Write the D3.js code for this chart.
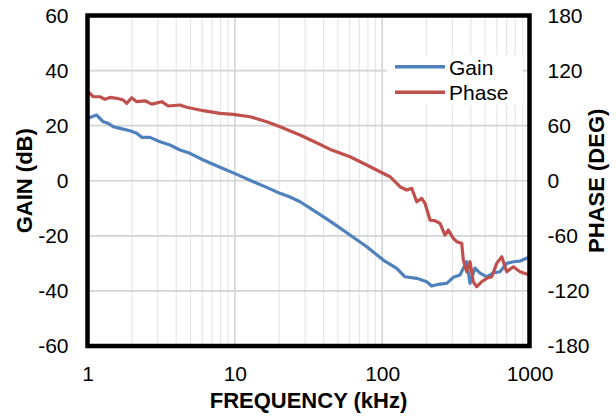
<!DOCTYPE html>
<html>
<head>
<meta charset="utf-8">
<script src="https://cdn.jsdelivr.net/npm/d3@7"></script>
<style>
  html, body { margin: 0; padding: 0; background: #fff; }
  svg { display: block; font-family: Arial, "Liberation Sans", sans-serif; }
</style>
</head>
<body>
<svg id="chart" width="616" height="417"></svg>
<script>
// Loop response: gain (dB) and phase (deg) against frequency (kHz)
const gainFreq = [1, 1.155, 1.28, 1.384, 1.497, 1.662, 1.943, 2.158, 2.333, 2.657, 3.105, 3.631, 4.245, 4.963, 6.109, 7.931, 10.3, 13.35, 16.46, 20.26, 23.69, 27.7, 35.96, 46.6, 60.5, 78.6, 101.8, 125.5, 142.9, 171.6, 200.6, 216.9, 247.0, 274.3, 304.0, 337.6, 355.4, 374.8, 394.7, 426.7, 461.4, 512.5, 565.3, 630.6, 700.1, 776.5, 862.2, 1000];
const gainDb = [22.7, 23.85, 21.42, 20.84, 19.61, 19.03, 18.15, 17.21, 15.76, 15.76, 14.16, 12.96, 11.15, 9.95, 7.52, 4.87, 2.32, -0.36, -2.4, -4.57, -5.92, -7.62, -11.47, -15.47, -19.72, -23.96, -28.79, -31.81, -34.86, -35.44, -36.67, -38.23, -37.51, -37.25, -35.07, -34.24, -31.81, -29.41, -37.25, -31.7, -33.51, -34.86, -33.51, -33.04, -29.99, -29.41, -29.16, -27.7];

const phaseFreq = [1, 1.095, 1.216, 1.314, 1.421, 1.578, 1.75, 1.845, 1.995, 2.158, 2.456, 2.728, 3.189, 3.535, 4.245, 4.713, 6.109, 7.931, 9.76, 12.68, 16.46, 20.26, 27.7, 35.0, 45.45, 60.5, 78.6, 96.7, 113.0, 132.1, 146.7, 158.7, 171.6, 185.5, 195.3, 211.2, 228.4, 247.0, 267.0, 281.2, 304.0, 320.6, 346.7, 355.4, 374.8, 394.7, 415.6, 438.3, 473.8, 512.5, 554.0, 599.0, 647.9, 700.1, 776.5, 862.2, 1000];
const phaseDeg = [97.5, 91.5, 91.5, 88.7, 90.8, 89.8, 87.9, 84.3, 90.4, 86.1, 87.1, 83.5, 86.1, 81.4, 82.5, 80.0, 76.3, 73.4, 72.3, 69.7, 64.3, 58.8, 49.8, 42.2, 33.4, 26.1, 17.1, 9.8, 4.4, -6.5, -10.1, -8.3, -22.9, -19.2, -24.6, -42.8, -43.6, -46.4, -59.1, -53.7, -62.7, -66.4, -68.2, -86.4, -99.1, -88.2, -110.0, -115.5, -110.0, -106.3, -104.6, -90.0, -82.8, -99.1, -93.7, -99.1, -102.7];

const freqTicks = [1, 10, 100, 1000];
const gainTicks = [-60, -40, -20, 0, 20, 40, 60];
const phaseTicks = [-180, -120, -60, 0, 60, 120, 180];
const seriesNames = ["Gain", "Phase"];
const seriesColors = ["#4F81BD", "#C0504D"];

const svg = d3.select("#chart");
const plotL = 87.5, plotR = 529.5, plotT = 15.5, plotB = 346;

const x = d3.scaleLog().domain([1, 1000]).range([plotL, plotR]);
const yGain = d3.scaleLinear().domain([-60, 60]).range([plotB, plotT]);
const yPhase = d3.scaleLinear().domain([-180, 180]).range([plotB, plotT]);

// Minor and major vertical gridlines
const minor = [];
for (let d = 1; d < 1000; d *= 10) for (let k = 2; k <= 9; k++) minor.push(d * k);
svg.append("g").selectAll("line").data(minor).join("line")
  .attr("x1", d => x(d)).attr("x2", d => x(d))
  .attr("y1", plotT).attr("y2", plotB)
  .attr("stroke", "#e6e6e6").attr("stroke-width", 1.2);
svg.append("g").selectAll("line").data(freqTicks).join("line")
  .attr("x1", d => x(d)).attr("x2", d => x(d))
  .attr("y1", plotT).attr("y2", plotB)
  .attr("stroke", "#d4d4d4").attr("stroke-width", 1.6);
svg.append("g").selectAll("line").data(gainTicks).join("line")
  .attr("x1", plotL).attr("x2", plotR)
  .attr("y1", d => yGain(d)).attr("y2", d => yGain(d))
  .attr("stroke", "#d4d4d4").attr("stroke-width", 1.6);

// Curves
const gainLine = d3.line().x((d, i) => x(gainFreq[i])).y(d => yGain(d));
const phaseLine = d3.line().x((d, i) => x(phaseFreq[i])).y(d => yPhase(d));
svg.append("path").attr("d", gainLine(gainDb))
  .attr("fill", "none").attr("stroke", seriesColors[0]).attr("stroke-width", 3.2)
  .attr("stroke-linejoin", "round").attr("stroke-linecap", "round");
svg.append("path").attr("d", phaseLine(phaseDeg))
  .attr("fill", "none").attr("stroke", seriesColors[1]).attr("stroke-width", 3.2)
  .attr("stroke-linejoin", "round").attr("stroke-linecap", "round");

// Legend
const legend = svg.append("g");
legend.append("rect").attr("x", 387).attr("y", 55).attr("width", 136).attr("height", 50).attr("fill", "#fff");
seriesNames.forEach((name, i) => {
  const cy = 66.7 + i * 25.6;
  legend.append("line").attr("x1", 395).attr("x2", 445).attr("y1", cy).attr("y2", cy)
    .attr("stroke", seriesColors[i]).attr("stroke-width", 3.5);
  legend.append("text").attr("x", 449).attr("y", cy + 8)
    .attr("font-size", 21).attr("fill", "#000").text(name);
});

// Plot frame
svg.append("rect").attr("x", plotL).attr("y", plotT)
  .attr("width", plotR - plotL).attr("height", plotB - plotT)
  .attr("fill", "none").attr("stroke", "#000").attr("stroke-width", 4.5);

// Axes (labels only, no tick marks); plain hyphen for negatives
const fmt = d => String(d);
const axB = svg.append("g").attr("transform", `translate(0,${plotB})`)
  .call(d3.axisBottom(x).tickValues(freqTicks).tickFormat(fmt).tickSize(0).tickPadding(20));
const axL = svg.append("g").attr("transform", `translate(${plotL},0)`)
  .call(d3.axisLeft(yGain).tickValues(gainTicks).tickFormat(fmt).tickSize(0).tickPadding(19));
const axR = svg.append("g").attr("transform", `translate(${plotR},0)`)
  .call(d3.axisRight(yPhase).tickValues(phaseTicks).tickFormat(fmt).tickSize(0).tickPadding(18));
[axB, axL, axR].forEach(a => {
  a.select(".domain").remove();
  a.selectAll("text").attr("font-size", 21).attr("fill", "#000")
    .attr("font-family", "Arial, 'Liberation Sans', sans-serif");
});

// Axis titles
svg.append("text").attr("x", (plotL + plotR) / 2).attr("y", 408)
  .attr("text-anchor", "middle").attr("font-size", 22).attr("font-weight", "bold").text("FREQUENCY (kHz)");
svg.append("text").attr("transform", `translate(32,${(plotT + plotB) / 2}) rotate(-90)`)
  .attr("text-anchor", "middle").attr("font-size", 22).attr("font-weight", "bold").text("GAIN (dB)");
svg.append("text").attr("transform", `translate(604,${(plotT + plotB) / 2}) rotate(-90)`)
  .attr("text-anchor", "middle").attr("font-size", 22).attr("font-weight", "bold").text("PHASE (DEG)");
</script>
</body>
</html>
